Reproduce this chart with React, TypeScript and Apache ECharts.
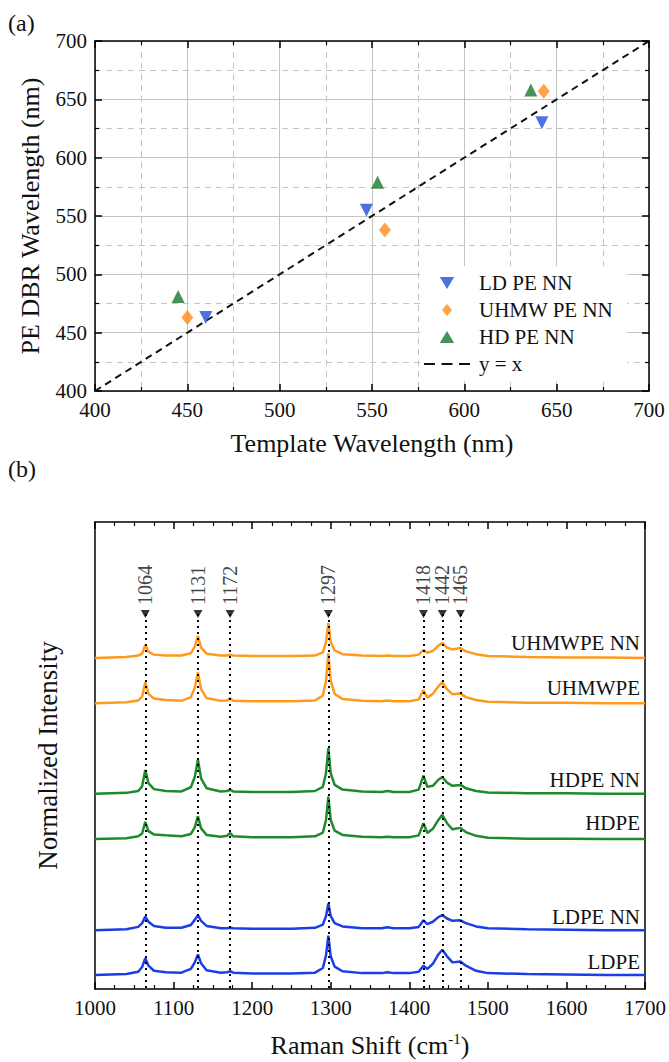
import React, { useEffect, useRef } from "react";
import * as echarts from "echarts";

const FONT = "Liberation Serif";

// ---- Panel (a) data ----
const templateLD = [460, 547, 642];
const dbrLD = [463, 555, 630];
const templateUHMW = [450, 557, 643];
const dbrUHMW = [463, 538, 657];
const templateHD = [445, 553, 636];
const dbrHD = [481, 579, 658];
const identityLine = [400, 700];

// ---- Panel (b) data ----
const peakShifts = [1064, 1131, 1172, 1297, 1418, 1442, 1465];
const peakMarkerLevel = 8.03;

const ramanShift = [
  1000, 1040, 1055, 1060, 1064, 1068, 1075, 1090, 1110, 1122, 1127, 1131, 1135, 1142,
  1160, 1168, 1172, 1176, 1200, 1250, 1280, 1290, 1294, 1297, 1300, 1305, 1315, 1340,
  1365, 1372, 1380, 1400, 1412, 1418, 1423, 1430, 1437, 1442, 1448, 1455, 1465, 1472,
  1485, 1500, 1550, 1600, 1650, 1700,
];

const spectrumNames = ["UHMWPE NN", "UHMWPE", "HDPE NN", "HDPE", "LDPE NN", "LDPE"];
const spectrumOffsets = [7.09, 6.12, 4.18, 3.21, 1.26, 0.3];
const spectrumLabelY = [643, 688, 780, 823, 917, 962];

const uhmwpeNN = [
  0, 0.02, 0.05, 0.09, 0.28, 0.13, 0.07, 0.05, 0.05, 0.1, 0.24, 0.47, 0.22, 0.09,
  0.05, 0.05, 0.07, 0.05, 0.04, 0.04, 0.05, 0.12, 0.34, 0.75, 0.34, 0.16, 0.08, 0.05,
  0.04, 0.05, 0.04, 0.04, 0.07, 0.17, 0.11, 0.15, 0.26, 0.32, 0.22, 0.18, 0.21, 0.14,
  0.08, 0.04, 0.02, 0.01, 0.01, 0,
];
const uhmwpe = [
  0, 0.02, 0.06, 0.14, 0.45, 0.2, 0.1, 0.07, 0.05, 0.13, 0.33, 0.66, 0.3, 0.11,
  0.05, 0.06, 0.11, 0.05, 0.04, 0.04, 0.06, 0.16, 0.48, 1.07, 0.48, 0.2, 0.09, 0.05,
  0.04, 0.06, 0.04, 0.04, 0.08, 0.28, 0.12, 0.2, 0.36, 0.45, 0.3, 0.19, 0.21, 0.13,
  0.07, 0.03, 0.01, 0.01, 0, 0,
];
const hdpeNN = [
  0, 0.02, 0.06, 0.16, 0.51, 0.23, 0.1, 0.06, 0.05, 0.14, 0.36, 0.73, 0.33, 0.12,
  0.05, 0.06, 0.09, 0.05, 0.04, 0.04, 0.06, 0.15, 0.44, 0.98, 0.44, 0.19, 0.09, 0.05,
  0.04, 0.06, 0.04, 0.04, 0.09, 0.39, 0.15, 0.17, 0.3, 0.36, 0.24, 0.17, 0.19, 0.12,
  0.06, 0.03, 0.01, 0.01, 0, 0,
];
const hdpe = [
  0, 0.02, 0.06, 0.12, 0.37, 0.17, 0.1, 0.08, 0.06, 0.11, 0.25, 0.49, 0.23, 0.09,
  0.05, 0.07, 0.13, 0.06, 0.04, 0.04, 0.06, 0.14, 0.41, 0.91, 0.41, 0.18, 0.09, 0.05,
  0.04, 0.05, 0.04, 0.04, 0.08, 0.34, 0.13, 0.22, 0.41, 0.52, 0.34, 0.21, 0.24, 0.15,
  0.07, 0.03, 0.01, 0.01, 0, 0,
];
const ldpeNN = [
  0, 0.02, 0.07, 0.15, 0.29, 0.18, 0.09, 0.05, 0.05, 0.11, 0.22, 0.32, 0.2, 0.09,
  0.04, 0.04, 0.05, 0.04, 0.03, 0.03, 0.05, 0.12, 0.3, 0.57, 0.3, 0.15, 0.08, 0.04,
  0.04, 0.06, 0.04, 0.04, 0.07, 0.21, 0.13, 0.18, 0.28, 0.32, 0.25, 0.2, 0.21, 0.15,
  0.08, 0.04, 0.02, 0.01, 0, 0,
];
const ldpe = [
  0, 0.02, 0.07, 0.17, 0.36, 0.2, 0.09, 0.06, 0.05, 0.13, 0.27, 0.44, 0.25, 0.1,
  0.05, 0.06, 0.08, 0.05, 0.03, 0.03, 0.05, 0.15, 0.42, 0.84, 0.4, 0.18, 0.08, 0.04,
  0.04, 0.06, 0.04, 0.04, 0.07, 0.2, 0.13, 0.24, 0.44, 0.54, 0.4, 0.27, 0.29, 0.2,
  0.09, 0.04, 0.02, 0.01, 0, 0,
];
const spectra = [uhmwpeNN, uhmwpe, hdpeNN, hdpe, ldpeNN, ldpe];

const ORANGE = "#FF9A1E";
const GREEN = "#1E8A2C";
const BLUE = "#1B3DE6";
const MBLUE = "#1F4FD8";
const MORANGE = "#FF8C1A";
const MGREEN = "#17792A";
const spectrumColors = [ORANGE, ORANGE, GREEN, GREEN, BLUE, BLUE];

const ICON_TRI_DOWN = "path://M0,0 L12,0 L6,10 Z";
const ICON_TRI_UP = "path://M6,0 L12,10 L0,10 Z";
const ICON_DIAMOND = "path://M5,0 L10,6 L5,12 L0,6 Z";
const ICON_DASH = "path://M0,0h10v2h-10z M16,0h10v2h-10z M32,0h10v2h-10z";

const axisLineStyle = { color: "#000", width: 1.5 };
const labelStyle = { fontSize: 21, color: "#111", fontFamily: FONT };
const titleStyle = { fontSize: 26, color: "#111", fontFamily: FONT };
const plain = (v: number) => String(v);

function App() {
  const ref = useRef<HTMLDivElement>(null);

  useEffect(() => {
    if (!ref.current) return;
    const chart = echarts.init(ref.current, undefined, { renderer: "svg" });

    const zip = (xs: number[], ys: number[]) => xs.map((x, i) => [x, ys[i]]);

    const gridA = { left: 95, top: 41, width: 554, height: 350 };
    const gridB = { left: 95, top: 522, width: 554, height: 467 };

    const aAxisCommon = (pos: string, showLabel: boolean) => ({
      gridIndex: 0,
      type: "value",
      min: 400,
      max: 700,
      interval: 50,
      position: pos,
      axisLine: { show: true, onZero: false, lineStyle: axisLineStyle },
      axisTick: { show: true, inside: true, length: 7, lineStyle: axisLineStyle },
      minorTick: { show: true, splitNumber: 2, length: 4, lineStyle: { color: "#000", width: 1.2 } },
      axisLabel: { show: showLabel, ...labelStyle, margin: 8, formatter: plain },
      splitLine: { show: showLabel, lineStyle: { color: "#c4c4c4", width: 1 } },
      minorSplitLine: { show: showLabel, lineStyle: { color: "#c4c4c4", width: 1, type: [6, 5] } },
    });

    const option: any = {
      animation: false,
      backgroundColor: "#fff",
      textStyle: { fontFamily: FONT },
      grid: [
        { ...gridA, containLabel: false },
        { ...gridB, containLabel: false },
      ],
      legend: {
        show: true,
        data: [
          { name: "LD PE NN", icon: ICON_TRI_DOWN },
          { name: "UHMW PE NN", icon: ICON_DIAMOND },
          { name: "HD PE NN", icon: ICON_TRI_UP },
          { name: "y = x", icon: ICON_DASH },
        ],
        orient: "vertical",
        left: 420,
        top: 266,
        padding: [6, 14, 6, 4],
        itemGap: 5,
        itemWidth: 46,
        itemHeight: 12,
        symbolKeepAspect: true,
        backgroundColor: "#fff",
        textStyle: { fontSize: 21, color: "#111", fontFamily: FONT, lineHeight: 22, padding: [0, 0, 0, 4] },
      },
      xAxis: [
        {
          ...aAxisCommon("bottom", true),
          name: "Template Wavelength (nm)",
          nameLocation: "middle",
          nameGap: 39,
          nameTextStyle: { ...titleStyle, verticalAlign: "top" },
        },
        { ...aAxisCommon("top", false) },
        {
          gridIndex: 1,
          type: "value",
          min: 1000,
          max: 1700,
          interval: 100,
          position: "bottom",
          axisLine: { show: true, onZero: false, lineStyle: axisLineStyle },
          axisTick: { show: true, inside: true, length: 7, lineStyle: axisLineStyle },
          minorTick: { show: true, splitNumber: 4, length: 4, lineStyle: { color: "#000", width: 1.2 } },
          axisLabel: { ...labelStyle, margin: 8, formatter: plain },
          splitLine: { show: false },
          name: "Raman Shift (cm{sup|-1})",
          nameLocation: "middle",
          nameGap: 42,
          nameTextStyle: {
            ...titleStyle,
            verticalAlign: "top",
            rich: {
              sup: { fontSize: 15, fontFamily: FONT, color: "#111", padding: [0, 0, 13, 0] },
            },
          },
        },
        {
          gridIndex: 1,
          type: "value",
          min: 1000,
          max: 1700,
          interval: 100,
          position: "top",
          axisLine: { show: true, onZero: false, lineStyle: axisLineStyle },
          axisTick: { show: true, inside: true, length: 7, lineStyle: axisLineStyle },
          minorTick: { show: true, splitNumber: 4, length: 4, lineStyle: { color: "#000", width: 1.2 } },
          axisLabel: { show: false },
          splitLine: { show: false },
        },
      ],
      yAxis: [
        {
          ...aAxisCommon("left", true),
          name: "PE DBR Wavelength (nm)",
          nameLocation: "middle",
          nameGap: 52,
          nameTextStyle: titleStyle,
        },
        { ...aAxisCommon("right", false) },
        {
          gridIndex: 1,
          type: "value",
          min: 0,
          max: 10,
          position: "left",
          axisLine: { show: true, onZero: false, lineStyle: axisLineStyle },
          axisTick: { show: false },
          axisLabel: { show: false },
          splitLine: { show: false },
          name: "Normalized Intensity",
          nameLocation: "middle",
          nameGap: 34,
          nameTextStyle: { ...titleStyle, fontSize: 27 },
        },
        {
          gridIndex: 1,
          type: "value",
          min: 0,
          max: 10,
          position: "right",
          axisLine: { show: true, onZero: false, lineStyle: axisLineStyle },
          axisTick: { show: false },
          axisLabel: { show: false },
          splitLine: { show: false },
        },
      ],
      series: [
        {
          name: "LD PE NN",
          type: "scatter",
          xAxisIndex: 0,
          yAxisIndex: 0,
          symbol: "triangle",
          symbolRotate: 180,
          symbolSize: 13,
          itemStyle: { color: MBLUE },
          data: zip(templateLD, dbrLD),
          z: 5,
        },
        {
          name: "UHMW PE NN",
          type: "scatter",
          xAxisIndex: 0,
          yAxisIndex: 0,
          symbol: "diamond",
          symbolSize: [12, 15],
          itemStyle: { color: MORANGE },
          data: zip(templateUHMW, dbrUHMW),
          z: 5,
        },
        {
          name: "HD PE NN",
          type: "scatter",
          xAxisIndex: 0,
          yAxisIndex: 0,
          symbol: "triangle",
          symbolSize: 13,
          itemStyle: { color: MGREEN },
          data: zip(templateHD, dbrHD),
          z: 5,
        },
        {
          name: "y = x",
          type: "line",
          xAxisIndex: 0,
          yAxisIndex: 0,
          showSymbol: false,
          symbol: "none",
          lineStyle: { color: "#111", width: 2, type: [7, 5] },
          itemStyle: { color: "#111" },
          data: zip(identityLine, identityLine),
          z: 4,
        },
        ...spectra.map((vals, i) => ({
          name: spectrumNames[i],
          type: "line",
          xAxisIndex: 2,
          yAxisIndex: 2,
          showSymbol: false,
          symbol: "none",
          lineStyle: { color: spectrumColors[i], width: 2.5 },
          itemStyle: { color: spectrumColors[i] },
          data: ramanShift.map((x, j) => [x, +(spectrumOffsets[i] + vals[j]).toFixed(3)]),
          z: 3,
        })),
        {
          name: "peaks",
          type: "scatter",
          xAxisIndex: 2,
          yAxisIndex: 2,
          symbol: "triangle",
          symbolRotate: 180,
          symbolSize: [9, 8],
          itemStyle: { color: "#000" },
          z: 6,
          data: peakShifts.map((s) => [s, peakMarkerLevel]),
          label: {
            show: true,
            position: "top",
            rotate: 90,
            align: "left",
            verticalAlign: "middle",
            distance: 5,
            fontSize: 20,
            color: "#111",
            fontFamily: FONT,
            formatter: (p: any) => String(p.value[0]),
          },
          markLine: {
            silent: true,
            symbol: ["none", "none"],
            label: { show: false },
            lineStyle: { color: "#000", width: 2, type: [2, 4] },
            data: peakShifts.map((s) => [
              { coord: [s, peakMarkerLevel] },
              { coord: [s, 0] },
            ]),
          },
        },
      ],
      graphic: [
        {
          type: "text",
          left: 8,
          top: 11,
          style: { text: "(a)", font: `24px "Liberation Serif"`, fill: "#111" },
        },
        {
          type: "text",
          left: 8,
          top: 457,
          style: { text: "(b)", font: `24px "Liberation Serif"`, fill: "#111" },
        },
        ...spectrumNames.map((n, i) => ({
          type: "text",
          x: 640,
          y: spectrumLabelY[i],
          style: {
            text: n,
            font: `21px "Liberation Serif"`,
            fill: "#111",
            align: "right",
            textAlign: "right",
            verticalAlign: "middle",
            textVerticalAlign: "middle",
          },
        })),
      ],
    };

    chart.setOption(option);
    return () => chart.dispose();
  }, []);

  return (
    <div
      ref={ref}
      style={{ position: "fixed", left: 0, top: 0, width: 669, height: 1062, background: "#fff" }}
    />
  );
}

export default App;
